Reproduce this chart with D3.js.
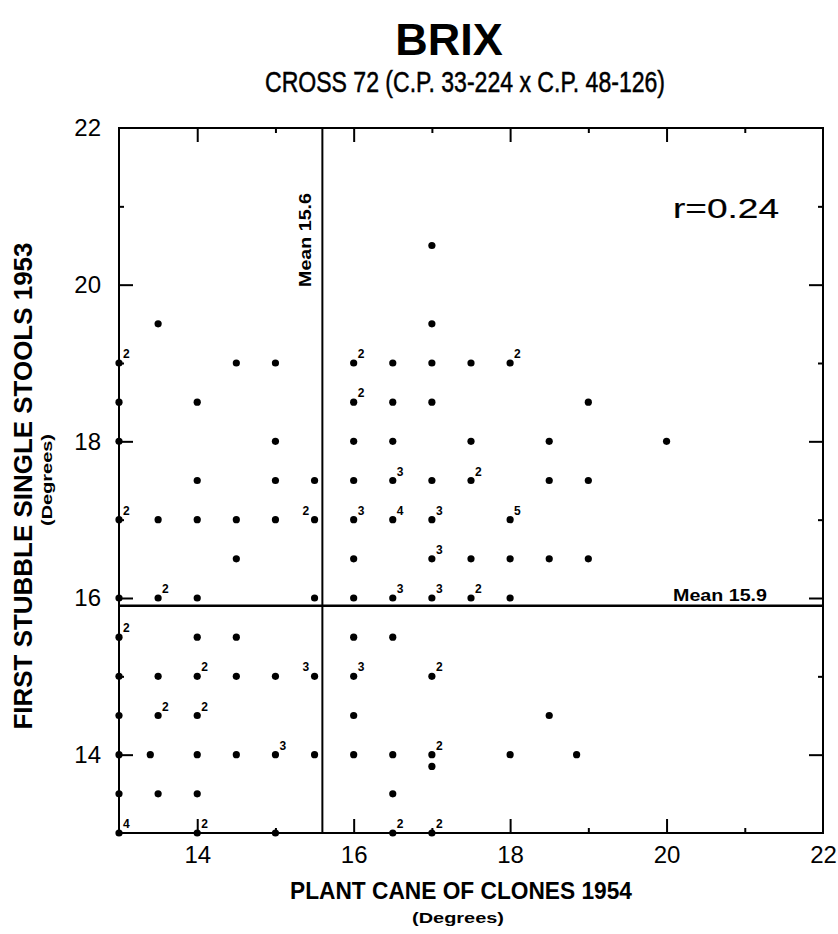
<!DOCTYPE html>
<html>
<head>
<meta charset="utf-8">
<title>Brix</title>
<script src="https://cdn.jsdelivr.net/npm/d3@7"></script>
<style>
body { margin: 0; background: #fff; }
text { font-family: "Liberation Sans", Arial, sans-serif; fill: #000; }
</style>
</head>
<body>
<svg width="838" height="934"></svg>
<script>
// plant cane 1954 (x), first stubble 1953 (y), number of clones at the point
var xs = [13.5, 13, 14.5, 15, 13, 14, 13, 15, 14, 15, 15.5, 13, 13.5, 14, 14.5, 15, 15.5, 14.5, 13, 13.5, 14, 15.5,
          17, 17, 16, 16.5, 17, 17.5, 18, 16, 16.5, 17, 19, 16, 16.5, 17.5, 18.5, 20, 16, 16.5, 17, 17.5, 18.5, 19,
          16, 16.5, 17, 18, 16, 17, 17.5, 18, 18.5, 19, 16, 16.5, 17, 17.5, 18,
          13, 14, 14.5, 13, 13.5, 14, 14.5, 15, 15.5, 13, 13.5, 14, 13, 13.4, 14, 14.5, 15, 15.5, 13, 13.5, 14, 13, 14, 15,
          16, 16.5, 16, 17, 16, 18.5, 16, 16.5, 17, 17, 18, 18.85, 16.5, 16.5, 17];
var ys = [19.5, 19, 19, 19, 18.5, 18.5, 18, 18, 17.5, 17.5, 17.5, 17, 17, 17, 17, 17, 17, 16.5, 16, 16, 16, 16,
          20.5, 19.5, 19, 19, 19, 19, 19, 18.5, 18.5, 18.5, 18.5, 18, 18, 18, 18, 18, 17.5, 17.5, 17.5, 17.5, 17.5, 17.5,
          17, 17, 17, 17, 16.5, 16.5, 16.5, 16.5, 16.5, 16.5, 16, 16, 16, 16, 16,
          15.5, 15.5, 15.5, 15, 15, 15, 15, 15, 15, 14.5, 14.5, 14.5, 14, 14, 14, 14, 14, 14, 13.5, 13.5, 13.5, 13, 13, 13,
          15.5, 15.5, 15, 15, 14.5, 14.5, 14, 14, 14, 13.85, 14, 14, 13.5, 13, 13];
var ns = [1, 2, 1, 1, 1, 1, 1, 1, 1, 1, 1, 2, 1, 1, 1, 1, 2, 1, 1, 2, 1, 1,
          1, 1, 2, 1, 1, 1, 2, 2, 1, 1, 1, 1, 1, 1, 1, 1, 1, 3, 1, 2, 1, 1,
          3, 4, 3, 5, 1, 3, 1, 1, 1, 1, 1, 3, 3, 2, 1,
          2, 1, 1, 1, 1, 2, 1, 1, 3, 1, 2, 2, 1, 1, 1, 1, 3, 1, 1, 1, 1, 4, 2, 1,
          1, 1, 3, 2, 1, 1, 1, 1, 2, 1, 1, 1, 1, 2, 2];

var majorTicks = [14, 16, 18, 20];
var minorTicks = [15, 17, 19, 21];
var labelTicks = [14, 16, 18, 20, 22];
var meanX = 15.6, meanY = 15.9, r = 0.24;

var svg = d3.select('svg');
var x = d3.scaleLinear().domain([13, 22]).range([119, 823]);
var y = d3.scaleLinear().domain([13, 22]).range([833, 128]);

// titles
svg.append('text').attr('x', 449).attr('y', 55).attr('text-anchor', 'middle')
  .style('font-size', '45px').style('font-weight', 'bold').text('BRIX');
svg.append('text').attr('x', 465).attr('y', 92).attr('text-anchor', 'middle')
  .attr('textLength', 400).attr('lengthAdjust', 'spacingAndGlyphs')
  .style('font-size', '29px').style('stroke', '#000').style('stroke-width', 0.5)
  .text('CROSS 72 (C.P. 33-224 x C.P. 48-126)');

// frame
svg.append('rect').attr('x', x(13)).attr('y', y(22))
  .attr('width', x(22) - x(13)).attr('height', y(13) - y(22))
  .attr('fill', 'none').attr('stroke', '#000').attr('stroke-width', 2);

// inward ticks on all four sides
function ticks(axis, vals, size, tr) {
  var g = svg.append('g').attr('transform', tr)
    .call(axis.tickValues(vals).tickSize(-size).tickFormat(''));
  g.select('.domain').remove();
  g.selectAll('line').attr('stroke-width', 2);
}
[[majorTicks, 14], [minorTicks, 5]].forEach(function(t) {
  ticks(d3.axisBottom(x), t[0], t[1], 'translate(0,' + y(13) + ')');
  ticks(d3.axisTop(x), t[0], t[1], 'translate(0,' + y(22) + ')');
  ticks(d3.axisLeft(y), t[0], t[1], 'translate(' + x(13) + ',0)');
  ticks(d3.axisRight(y), t[0], t[1], 'translate(' + x(22) + ',0)');
});

// tick labels
var gx = svg.append('g').attr('transform', 'translate(0,' + y(13) + ')')
  .call(d3.axisBottom(x).tickValues(labelTicks).tickSize(0).tickPadding(13));
gx.select('.domain').remove();
gx.selectAll('text').style('font-size', '24px').attr('font-family', null);

var gy = svg.append('g').attr('transform', 'translate(' + x(13) + ',0)')
  .call(d3.axisLeft(y).tickValues(labelTicks).tickSize(0).tickPadding(18));
gy.select('.domain').remove();
gy.selectAll('text').style('font-size', '24px').attr('font-family', null);

// mean lines
svg.append('line').attr('x1', x(meanX)).attr('x2', x(meanX)).attr('y1', y(22)).attr('y2', y(13))
  .attr('stroke', '#000').attr('stroke-width', 2);
svg.append('line').attr('x1', x(13)).attr('x2', x(22)).attr('y1', y(meanY)).attr('y2', y(meanY))
  .attr('stroke', '#000').attr('stroke-width', 2.5);

svg.append('text')
  .attr('transform', 'translate(' + (x(meanX) - 11) + ',287) rotate(-90)')
  .attr('textLength', 94).attr('lengthAdjust', 'spacingAndGlyphs')
  .style('font-size', '17px').style('font-weight', 'bold').text('Mean ' + meanX);
svg.append('text').attr('x', 673).attr('y', y(meanY) - 5)
  .attr('textLength', 94).attr('lengthAdjust', 'spacingAndGlyphs')
  .style('font-size', '17px').style('font-weight', 'bold').text('Mean ' + meanY);

svg.append('text').attr('x', 673).attr('y', 218)
  .attr('textLength', 106).attr('lengthAdjust', 'spacingAndGlyphs')
  .style('font-size', '28px').style('stroke', '#000').style('stroke-width', 0.2)
  .text('r=' + r.toFixed(2));

// points
var pts = xs.map(function(v, i) { return {x: v, y: ys[i], n: ns[i]}; });
svg.append('g').selectAll('circle').data(pts).enter().append('circle')
  .attr('cx', function(d) { return x(d.x); })
  .attr('cy', function(d) { return y(d.y); })
  .attr('r', 3.6).attr('fill', '#000');

svg.append('g').selectAll('text').data(pts.filter(function(d) { return d.n > 1; })).enter().append('text')
  .attr('x', function(d) { return d.x === 15.5 ? x(d.x) - 12 : x(d.x) + 4; })
  .attr('y', function(d) { return y(d.y) - 5; })
  .style('font-size', '12px').style('font-weight', 'bold')
  .text(function(d) { return d.n; });

// axis titles
svg.append('text').attr('x', 461).attr('y', 899).attr('text-anchor', 'middle')
  .attr('textLength', 342).attr('lengthAdjust', 'spacingAndGlyphs')
  .style('font-size', '24px').style('font-weight', 'bold').text('PLANT CANE OF CLONES 1954');
svg.append('text').attr('x', 458).attr('y', 923).attr('text-anchor', 'middle')
  .attr('textLength', 92).attr('lengthAdjust', 'spacingAndGlyphs')
  .style('font-size', '15px').style('font-weight', 'bold').text('(Degrees)');

svg.append('text').attr('transform', 'translate(32,486) rotate(-90)').attr('text-anchor', 'middle')
  .attr('textLength', 487).attr('lengthAdjust', 'spacingAndGlyphs')
  .style('font-size', '26px').style('font-weight', 'bold').text('FIRST STUBBLE SINGLE STOOLS 1953');
svg.append('text').attr('transform', 'translate(52,480) rotate(-90)').attr('text-anchor', 'middle')
  .attr('textLength', 92).attr('lengthAdjust', 'spacingAndGlyphs')
  .style('font-size', '15px').style('font-weight', 'bold').text('(Degrees)');
</script>
</body>
</html>
